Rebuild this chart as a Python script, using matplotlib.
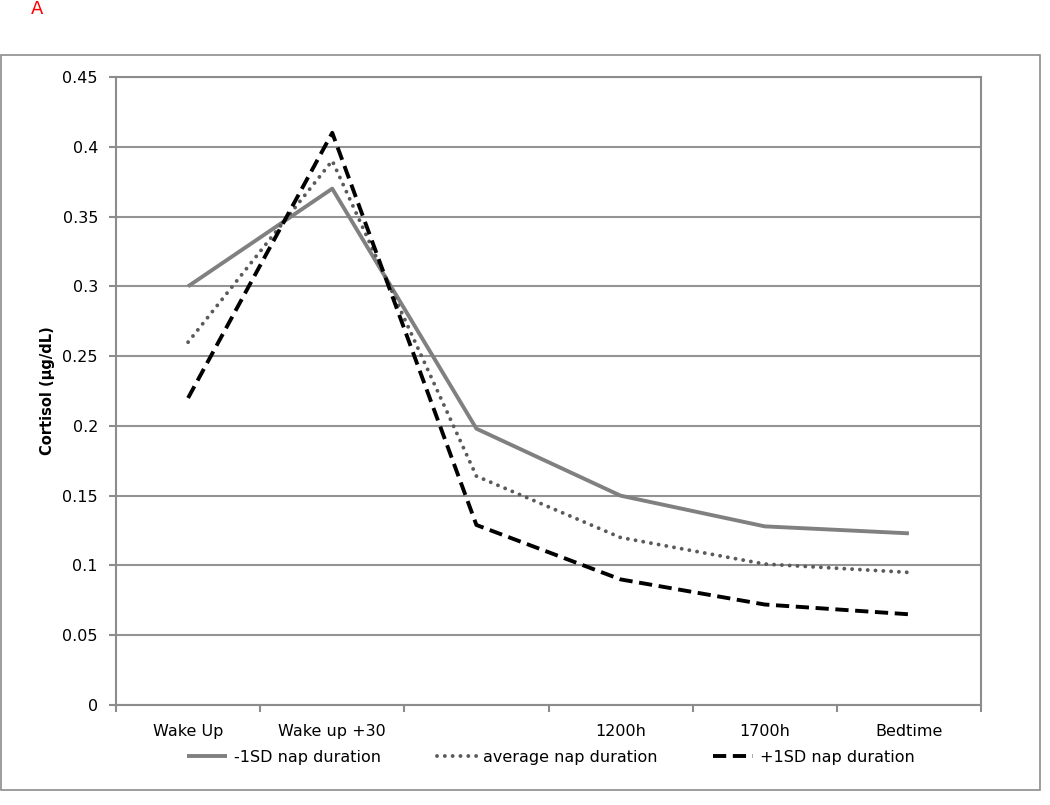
import matplotlib.pyplot as plt
from matplotlib.patches import Rectangle

# Data
categories = ["Wake Up", "Wake up +30", "", "1200h", "1700h", "Bedtime"]
minus_1sd = [0.300, 0.370, 0.198, 0.150, 0.128, 0.123]
average = [0.260, 0.390, 0.164, 0.120, 0.101, 0.095]
plus_1sd = [0.220, 0.410, 0.129, 0.090, 0.072, 0.065]
y_ticks = [0, 0.05, 0.1, 0.15, 0.2, 0.25, 0.3, 0.35, 0.4, 0.45]
y_tick_labels = ["0", "0.05", "0.1", "0.15", "0.2", "0.25", "0.3", "0.35", "0.4", "0.45"]

plt.rcParams["font.family"] = "DejaVu Sans"

W, H = 1050, 805
fig = plt.figure(figsize=(W / 100, H / 100), dpi=100)
ax = fig.add_axes([116 / W, 1 - 705 / H, 865 / W, 628 / H])

# outer chart frame
fig.patches.append(Rectangle((1 / W, 15 / H), 1039 / W, 735 / H, transform=fig.transFigure,
                             fill=False, edgecolor="#8c8c8c", linewidth=1.2))
fig.text(37 / W, 1 - 9 / H, "A", color="red", fontsize=13, ha="center", va="center")

x = list(range(len(categories)))
ax.plot(x, minus_1sd, color="#808080", linewidth=2.8, solid_capstyle="butt", label="-1SD nap duration")
ax.plot(x, average, color="#5a5a5a", linewidth=2.8, linestyle=(0, (0.01, 2.0)),
        dash_capstyle="round", label="average nap duration")
ax.plot(x, plus_1sd, color="black", linewidth=2.8, linestyle=(0, (3.4, 1.7)), label="+1SD nap duration")

ax.set_xlim(-0.5, len(categories) - 0.5)
ax.set_ylim(0, 0.45)
ax.set_yticks(y_ticks)
ax.set_yticklabels(y_tick_labels)
ax.set_xticks(x)
ax.set_xticklabels(categories)
ax.set_xticks([i - 0.5 for i in range(len(categories) + 1)], minor=True)
ax.tick_params(axis="x", which="major", length=0, pad=14, labelsize=11.5)
ax.tick_params(axis="x", which="minor", length=5, width=1.5, color="#8c8c8c", direction="out")
ax.tick_params(axis="y", length=5, width=1.5, color="#8c8c8c", pad=8, labelsize=11.5)

ax.grid(axis="y", color="#939393", linewidth=1.5)
ax.set_axisbelow(True)
for side in ["left", "right", "top", "bottom"]:
    ax.spines[side].set_color("#8c8c8c")
    ax.spines[side].set_linewidth(1.5)

ax.set_ylabel("Cortisol (µg/dL)", fontsize=10.5, fontweight="bold")
ax.yaxis.set_label_coords(-0.071, 0.5)

fig.legend(loc="center", bbox_to_anchor=(551 / W, 1 - 757 / H), ncol=3, frameon=False,
           fontsize=11.5, handlelength=2.5, handletextpad=0.4, columnspacing=3.5)

fig.savefig("out.png", dpi=100)
